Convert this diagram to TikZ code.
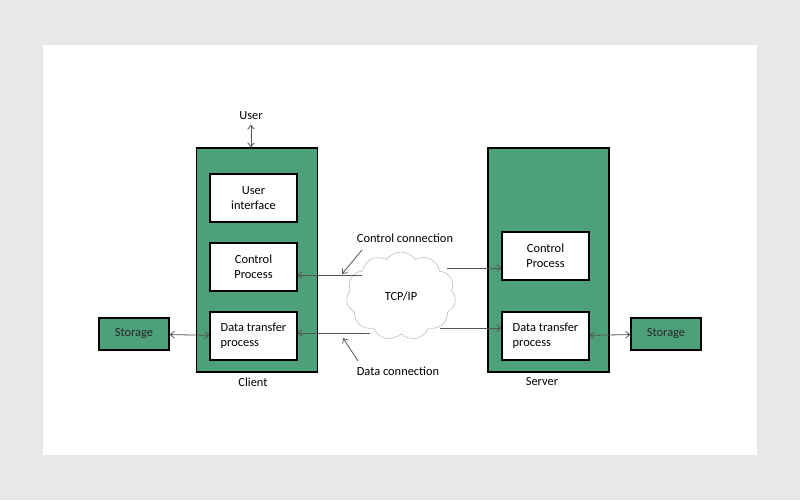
\documentclass[tikz,border=0pt]{standalone}
\usepackage{fontspec}
\setmainfont{Carlito}
\usetikzlibrary{shapes.symbols,arrows.meta}
\definecolor{hostgreen}{RGB}{77,161,122}
\definecolor{linegray}{RGB}{85,85,85}
\definecolor{pagegray}{RGB}{232,232,232}

\begin{document}
\begin{tikzpicture}[x=0.75pt,y=0.75pt,yscale=-1,xscale=1,
  font=\fontsize{9.3}{11}\selectfont,
  host/.style={draw=black,line width=1.1pt,fill=hostgreen,minimum width=91pt,minimum height=168pt,inner sep=0pt},
  proc/.style={draw=black,line width=1.1pt,fill=white,minimum width=65pt,minimum height=36pt,inner sep=0pt,align=center},
  store/.style={draw=black,line width=1.1pt,fill=hostgreen,minimum width=52.5pt,minimum height=24pt,inner sep=0pt,text=black!85},
  conn/.style={draw=linegray,line width=0.6pt,-{Straight Barb[length=3pt,width=5pt]}},
  both/.style={conn,{Straight Barb[length=3pt,width=5pt]}-{Straight Barb[length=3pt,width=5pt]}}]
%set diagram: 800 x 500
\useasboundingbox (0,0) rectangle (800,500);
\fill[pagegray] (0,0) rectangle (800,500);
\fill[white] (43,45) rectangle (757,455);

%Client side
\node[host] (client) at (257,260) {};
\node[proc] (ui) at (253.5,198) {User\\interface};
\node[proc] (cp1) at (253.5,267) {Control\\Process};
\node[proc,align=left] (dt1) at (253.5,336) {Data transfer\\process};
\node (user) at (251,116) {User};
\node (clientlbl) at (253,382) {Client};
\node[store] (st1) at (134,334) {Storage};

%Server side
\node[host] (server) at (548.5,260) {};
\node[proc] (cp2) at (545.5,256) {Control\\Process};
\node[proc,align=left] (dt2) at (545.5,336) {Data transfer\\process};
\node (serverlbl) at (542,382) {Server};
\node[store] (st2) at (666,334) {Storage};

%Network
\node[cloud,cloud puffs=11,cloud puff arc=110,aspect=1.3,draw=gray!55,fill=white,
  minimum width=82pt,minimum height=66pt] (net) at (401,296) {TCP/IP};
\node (ctrllbl) at (405,238) {Control connection};
\node (datalbl) at (398,371) {Data connection};

%connector ends
\coordinate (n1) at (362,275);
\coordinate (n2) at (447,268);
\coordinate (n3) at (370,333);
\coordinate (n4) at (440,328);
\coordinate (p1) at (362,250);
\coordinate (p2) at (342,274);
\coordinate (p3) at (358,361);
\coordinate (p4) at (343,338);

\draw[both] (user) -- (client.north -| user);
\draw[both] (st1) -- (dt1);
\draw[both] (dt2) -- (st2);
\draw[conn] (n1) -- (cp1.east |- n1);
\draw[conn] (n2) -- (cp2.west |- n2);
\draw[conn] (n3) -- (dt1.east |- n3);
\draw[conn] (n4) -- (dt2.west |- n4);
\draw[conn] (p1) -- (p2);
\draw[conn] (p3) -- (p4);

\end{tikzpicture}
\end{document}
